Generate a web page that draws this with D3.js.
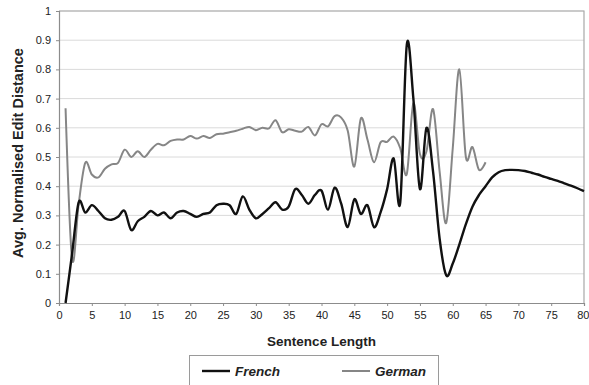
<!DOCTYPE html>
<html>
<head>
<meta charset="utf-8">
<script src="https://cdn.jsdelivr.net/npm/d3@7"></script>
<style>
  html, body { margin: 0; padding: 0; background: #fff; }
  svg { display: block; }
  text { font-family: "Liberation Sans", Arial, sans-serif; }
</style>
</head>
<body>
<svg id="chart" width="589" height="385"></svg>
<script>
// ---- Data ----
const frenchX = d3.range(1, 81);
const frenchY = [
  0.00, 0.17, 0.345, 0.31, 0.335, 0.315, 0.29, 0.285, 0.295, 0.315,
  0.25, 0.28, 0.295, 0.315, 0.30, 0.31, 0.29, 0.31, 0.315, 0.305,
  0.295, 0.305, 0.31, 0.335, 0.34, 0.335, 0.305, 0.365, 0.32, 0.29,
  0.305, 0.325, 0.345, 0.32, 0.33, 0.39, 0.37, 0.34, 0.37, 0.385,
  0.32, 0.395, 0.34, 0.26, 0.355, 0.305, 0.335, 0.26, 0.31, 0.39,
  0.495, 0.345, 0.885, 0.70, 0.39, 0.60, 0.45, 0.22, 0.095, 0.135,
  0.20, 0.27, 0.33, 0.37, 0.40, 0.43, 0.448, 0.455, 0.456, 0.455,
  0.452, 0.446, 0.44, 0.432, 0.425, 0.418, 0.41, 0.402, 0.393, 0.383
];
const germanX = d3.range(1, 66);
const germanY = [
  0.667, 0.15, 0.34, 0.48, 0.44, 0.43, 0.46, 0.475, 0.48, 0.525,
  0.50, 0.52, 0.50, 0.525, 0.545, 0.54, 0.555, 0.56, 0.56, 0.572,
  0.563, 0.572, 0.565, 0.578, 0.58, 0.585, 0.59, 0.597, 0.603, 0.592,
  0.60, 0.598, 0.626, 0.585, 0.595, 0.59, 0.587, 0.603, 0.574, 0.612,
  0.605, 0.64, 0.635, 0.59, 0.467, 0.632, 0.56, 0.482, 0.55, 0.552,
  0.57, 0.53, 0.442, 0.684, 0.51, 0.52, 0.664, 0.45, 0.274, 0.53,
  0.80, 0.50, 0.534, 0.456, 0.482
];
const xTicks = d3.range(0, 81, 5);
const yTicks = d3.range(0, 1.01, 0.1);
const seriesNames = ["French", "German"];

// ---- Layout ----
const svg = d3.select("#chart");
const L = 59, R = 584, T = 11, B = 303;
const x = d3.scaleLinear().domain([0, 80]).range([L, R]);
const y = d3.scaleLinear().domain([0, 1]).range([B, T]);

// gridlines
svg.append("g").selectAll("line").data(yTicks.slice(1)).join("line")
  .attr("x1", L).attr("x2", R)
  .attr("y1", d => y(d)).attr("y2", d => y(d))
  .attr("stroke", "#dadada").attr("stroke-width", 1);

// plot border (top/right)
svg.append("path")
  .attr("d", `M${L},${T}H${R}V${B}`)
  .attr("fill", "none").attr("stroke", "#a8a8a8").attr("stroke-width", 1.2);

// axes
const xAxis = d3.axisBottom(x).tickValues(xTicks).tickSize(3).tickPadding(5)
  .tickFormat(d3.format("d"));
const gx = svg.append("g").attr("transform", `translate(0,${B})`).call(xAxis);
const yAxis = d3.axisLeft(y).tickValues(yTicks).tickSize(3).tickPadding(5)
  .tickFormat(d => d === 0 ? "0" : d === 1 ? "1" : d3.format(".1f")(d));
const gy = svg.append("g").attr("transform", `translate(${L},0)`).call(yAxis);
[gx, gy].forEach(g => {
  g.select(".domain").attr("stroke", "#8c8c8c").attr("stroke-width", 1.2);
  g.selectAll(".tick line").attr("stroke", "#8c8c8c");
  g.selectAll(".tick text").attr("font-size", 11).attr("fill", "#222")
    .attr("font-family", "Liberation Sans, Arial, sans-serif");
});
gx.selectAll(".tick text").filter(d => d === 80).attr("text-anchor", "end").attr("dx", "5");

// lines
const line = d3.line().curve(d3.curveCardinal.tension(0))
  .x(d => x(d[0])).y(d => y(d[1]));
const german = germanX.map((v, i) => [v, germanY[i]]);
const french = frenchX.map((v, i) => [v, frenchY[i]]);
svg.append("path").datum(german).attr("d", line)
  .attr("fill", "none").attr("stroke", "#868686").attr("stroke-width", 2);
svg.append("path").datum(french).attr("d", line)
  .attr("fill", "none").attr("stroke", "#111").attr("stroke-width", 2.4);

// axis titles
svg.append("text").attr("x", (L + R) / 2 + 0).attr("y", 346)
  .attr("text-anchor", "middle").attr("font-size", 13.5).attr("font-weight", "bold")
  .attr("fill", "#222").text("Sentence Length");
svg.append("text").attr("transform", "translate(23,153) rotate(-90)")
  .attr("text-anchor", "middle").attr("font-size", 14.5).attr("font-weight", "bold")
  .attr("fill", "#222").text("Avg. Normalised Edit Distance");

// legend
const lg = svg.append("g");
lg.append("rect").attr("x", 189.5).attr("y", 355.5).attr("width", 249).attr("height", 40)
  .attr("fill", "#fff").attr("stroke", "#9a9a9a").attr("stroke-width", 1);
const legendItems = [
  { name: seriesNames[0], color: "#111", w: 2.4, x0: 202 },
  { name: seriesNames[1], color: "#868686", w: 2, x0: 342 }
];
legendItems.forEach(it => {
  lg.append("line").attr("x1", it.x0).attr("x2", it.x0 + 28)
    .attr("y1", 371).attr("y2", 371).attr("stroke", it.color).attr("stroke-width", it.w);
  lg.append("text").attr("x", it.x0 + 33).attr("y", 376)
    .attr("font-size", 13.5).attr("font-weight", "bold").attr("font-style", "italic")
    .attr("fill", "#222").text(it.name);
});
</script>
</body>
</html>
